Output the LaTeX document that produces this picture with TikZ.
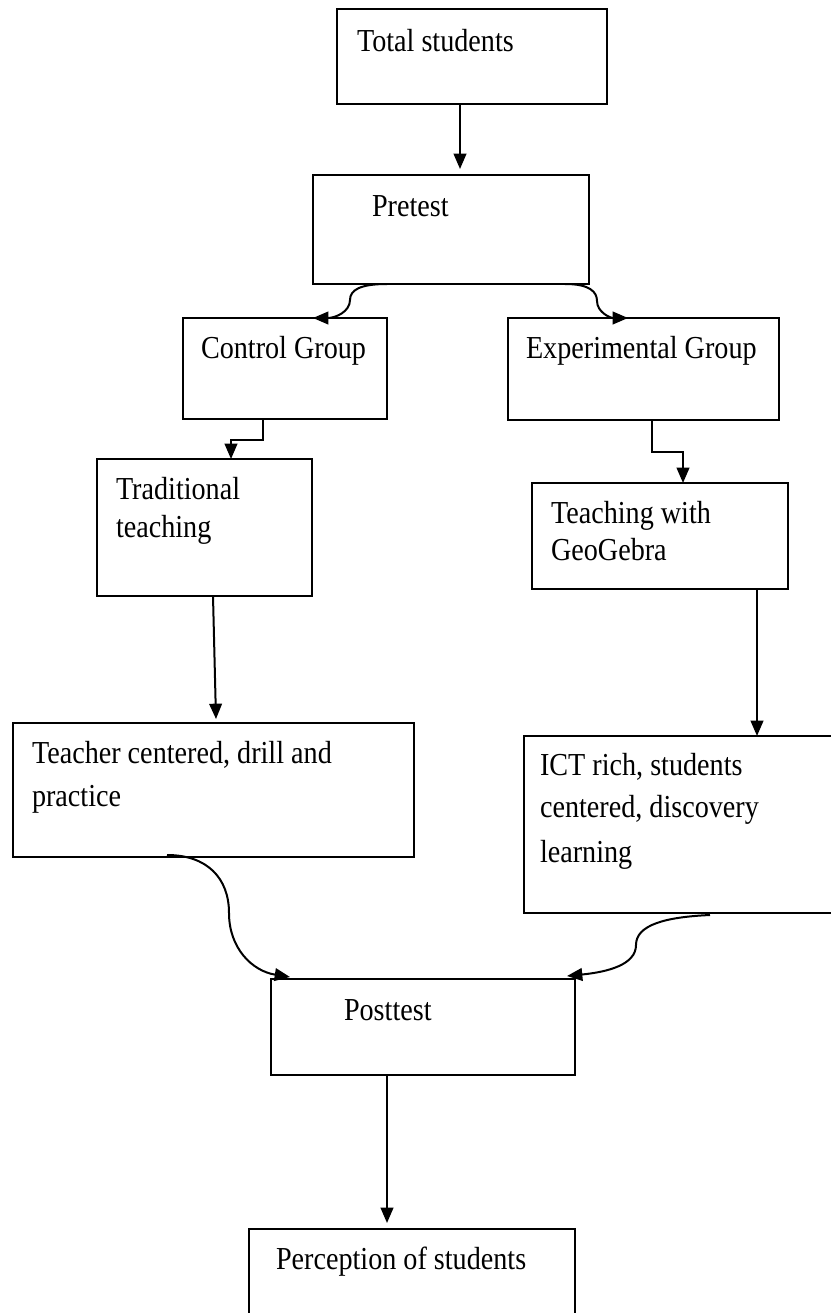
\documentclass[tikz,border=0pt]{standalone}
\usepackage{fontspec}
\setmainfont[FakeStretch=0.88]{Liberation Serif}
\usetikzlibrary{arrows.meta,calc}
\begin{document}
\begin{tikzpicture}[x=0.75pt,y=-0.75pt,
  box/.style n args={2}{draw, line width=1.35pt, inner sep=0pt, outer sep=0pt,
    minimum width=#1*0.75pt, minimum height=#2*0.75pt},
  lbl/.style={anchor=base west, inner sep=0pt, outer sep=0pt, font=\fontsize{24}{28}\selectfont},
  arr/.style={line width=1.5pt, -{Triangle[length=11.5pt,width=9.5pt]}}]
\path[use as bounding box] (0,0) rectangle (831,1313);
\clip (0,0) rectangle (831,1313);
\fill[white] (0,0) rectangle (831,1313);

% boxes
\node[box={270}{95}]  (tot)  at (472,56.5)   {};
\node[box={276}{109}] (pre)  at (451,229.5)  {};
\node[box={204}{101}] (ctl)  at (285,368.5)  {};
\node[box={271}{102}] (exp)  at (643.5,369)  {};
\node[box={215}{137}] (trad) at (204.5,527.5){};
\node[box={256}{106}] (geo)  at (660,536)    {};
\node[box={401}{134}] (tch)  at (213.5,790)  {};
\node[box={336}{177}] (ict)  at (692,824.5)  {};
\node[box={304}{96}]  (post) at (423,1027)   {};
\node[box={326}{111}] (perc) at (412,1284.5) {};

% texts
\node[lbl] (t1)  at (357,52)   {Total students};
\node[lbl] (t2)  at (372,216)  {Pretest};
\node[lbl] (t3)  at (201,358)  {Control Group};
\node[lbl] (t4)  at (526,358)  {Experimental Group};
\node[lbl] (t5a) at (116,499)  {Traditional};
\node[lbl] (t5b) at (116,537)  {teaching};
\node[lbl] (t6a) at (551,523)  {Teaching with};
\node[lbl] (t6b) at (551,560)  {GeoGebra};
\node[lbl] (t7a) at (32,763)   {Teacher centered, drill and};
\node[lbl] (t7b) at (32,806)   {practice};
\node[lbl] (t8a) at (540,775)  {ICT rich, students};
\node[lbl] (t8b) at (540,817)  {centered, discovery};
\node[lbl] (t8c) at (540,862)  {learning};
\node[lbl] (t9)  at (344,1020) {Posttest};
\node[lbl] (t10) at (276,1269) {Perception of students};

% connectors
\draw[arr] ($(tot.south)+(-12,0)$) -- ($(pre.north)+(9,-6)$);

\coordinate (m1) at (350,300);
\draw[arr] ($(pre.south west)+(74,0)$) .. controls +(-27,0) and +(0,-10) .. (m1)
  .. controls +(0,12) and +(22,0) .. ($(ctl.north)+(28,0)$);
\coordinate (m2) at (597,301);
\draw[arr] ($(pre.south east)+(-24,0)$) .. controls +(25,0) and +(0,-9) .. (m2)
  .. controls +(0,11) and +(-18,0) .. ($(exp.north west)+(120,0)$);

\draw[arr] ($(ctl.south)+(-22,0)$) -- ++(0,21) -| ($(trad.north)+(26.5,0)$);
\draw[arr] ($(exp.south)+(8.5,0)$) -- ++(0,32) -| ($(geo.north)+(23,0)$);

\draw[arr] ($(trad.south)+(8.5,0)$) -- ($(tch.north)+(2.5,-4)$);
\draw[arr] ($(geo.south)+(97,0)$) -- ($(ict.north)+(65,0)$);

\coordinate (m3) at (229,913);
\draw[arr] ($(tch.south)+(-46.5,-2)$) .. controls +(40,0) and +(0,-35) .. (m3)
  .. controls +(0,35) and +(-38,-6) .. ($(post.north west)+(19,-2)$);
\coordinate (m4) at (636,945);
\draw[arr] ($(ict.south)+(18,2)$) .. controls +(-45,2) and +(0,-20) .. (m4)
  .. controls +(0,20) and +(40,-4) .. ($(post.north east)+(-8,-3)$);

\draw[arr] ($(post.south)+(-36,0)$) -- ($(perc.north)+(-25,-6)$);
\end{tikzpicture}
\end{document}
